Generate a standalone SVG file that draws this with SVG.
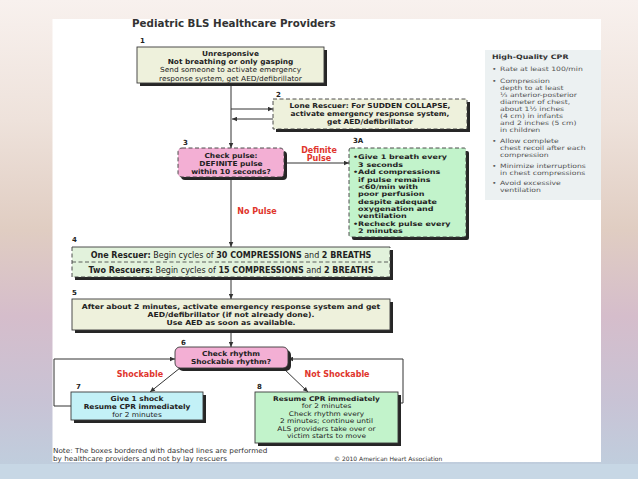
<svg xmlns="http://www.w3.org/2000/svg" width="638" height="479" viewBox="0 0 638 479">
<defs>
<linearGradient id="bg" x1="0" y1="0" x2="0" y2="1">
<stop offset="0" stop-color="#f8f1ee"/>
<stop offset="0.25" stop-color="#eee2db"/>
<stop offset="0.48" stop-color="#e0cdc2"/>
<stop offset="0.66" stop-color="#d5bdcb"/>
<stop offset="0.84" stop-color="#c8c3d5"/>
<stop offset="1" stop-color="#bed0df"/>
</linearGradient>
<marker id="ah" viewBox="0 0 10 10" refX="10" refY="5" markerWidth="6" markerHeight="5" markerUnits="userSpaceOnUse" orient="auto">
<path d="M0,0.5 L10,5 L0,9.5 z" fill="#333"/>
</marker>
</defs>
<style>
text { font-family: "DejaVu Sans", "Liberation Sans", sans-serif; fill: #222; }
.c { text-anchor: middle; }
.b { font-weight: bold; }
.f { font-size: 6.8px; }
.f7 { font-size: 7px; }
.f64 { font-size: 6.4px; }
.f63 { font-size: 6.3px; }
.f8 { font-size: 8px; }
.num { font-size: 7px; font-weight: bold; fill: #222; }
.red { fill: #e0352c; font-weight: bold; font-size: 8px; text-anchor: middle; }
.side { font-size: 6px; fill: #555; }
.box { stroke: #3a3a3a; stroke-width: 0.9; }
.dash { stroke-dasharray: 4 2.5; }
.sh { fill: #262626; }
.ln { fill: none; stroke: #333; stroke-width: 1; }
.arr { marker-end: url(#ah); }
.beige { fill: #eef1dc; }
.pink { fill: #f3afd4; }
.mint { fill: #c2f3cb; }
.pale { fill: #e2f2dc; }
.cyan { fill: #c3f1f7; }
.note { font-size: 6.8px; fill: #333; }
</style>

<rect x="0" y="0" width="638" height="479" fill="url(#bg)"/>
<rect x="0" y="464" width="638" height="15" fill="#c7d7e5"/>
<rect x="52.5" y="19" width="548.5" height="443" fill="#ffffff"/>

<text x="132" y="27" class="b" style="font-size:10.3px;fill:#333">Pediatric BLS Healthcare Providers</text>

<g id="sidebar">
<rect x="485" y="50" width="116" height="150" fill="#ecf1f2"/>
<g transform="translate(492 0) scale(1.28 1) translate(-492 0)">
<text x="492" y="59" class="b" style="font-size:6.2px;fill:#333">High-Quality CPR</text>
<text class="side" x="492" y="71">•</text><text class="side" x="498.3" y="71">Rate at least 100/min</text>
<text class="side" x="492" y="83">•</text><text class="side" x="498.3" y="83">Compression</text>
<text class="side" x="498.3" y="90">depth to at least</text>
<text class="side" x="498.3" y="97">⅓ anterior-posterior</text>
<text class="side" x="498.3" y="104">diameter of chest,</text>
<text class="side" x="498.3" y="111">about 1½ inches</text>
<text class="side" x="498.3" y="118">(4 cm) in infants</text>
<text class="side" x="498.3" y="125">and 2 inches (5 cm)</text>
<text class="side" x="498.3" y="132">in children</text>
<text class="side" x="492" y="143">•</text><text class="side" x="498.3" y="143">Allow complete</text>
<text class="side" x="498.3" y="150">chest recoil after each</text>
<text class="side" x="498.3" y="157">compression</text>
<text class="side" x="492" y="168">•</text><text class="side" x="498.3" y="168">Minimize interruptions</text>
<text class="side" x="498.3" y="175">in chest compressions</text>
<text class="side" x="492" y="185">•</text><text class="side" x="498.3" y="185">Avoid excessive</text>
<text class="side" x="498.3" y="192">ventilation</text>
</g>
</g>

<g id="connectors">
<line class="ln arr" x1="231" y1="83" x2="231" y2="148"/>
<line class="ln arr" x1="231" y1="109" x2="273" y2="109"/>
<line class="ln arr" x1="273" y1="119" x2="232" y2="119"/>
<line class="ln arr" x1="284" y1="163" x2="349" y2="163"/>
<line class="ln arr" x1="231" y1="177" x2="231" y2="247"/>
<line class="ln arr" x1="231" y1="277" x2="231" y2="299"/>
<line class="ln arr" x1="231" y1="330" x2="231" y2="347"/>
<line class="ln arr" x1="180" y1="368" x2="150" y2="392"/>
<line class="ln arr" x1="283" y1="368" x2="308" y2="392"/>
<polyline class="ln arr" points="71,406 54,406 54,359 175,359"/>
<polyline class="ln arr" points="398,403 403,403 403,359 288,359"/>
</g>

<g id="node1">
<text class="num" x="140" y="43">1</text>
<rect class="sh" x="140" y="50" width="187" height="36"/>
<rect class="box beige" x="137" y="47" width="187" height="36"/>
<g transform="translate(230.5 0) scale(1.06 1) translate(-230.5 0)">
<text class="c b f7" x="230.5" y="56">Unresponsive</text>
<text class="c b f7" x="230.5" y="64.2">Not breathing or only gasping</text>
<text class="c f7" x="230.5" y="72.4">Send someone to activate emergency</text>
<text class="c f7" x="230.5" y="80.6">response system, get AED/defibrillator</text>
</g>
</g>

<g id="node2">
<text class="num" x="276" y="97">2</text>
<rect class="sh" x="276" y="102" width="194" height="30"/>
<rect class="box beige dash" x="273" y="99" width="194" height="30"/>
<g transform="translate(370 0) scale(1.09 1) translate(-370 0)">
<text class="c b f" x="370" y="108">Lone Rescuer: For SUDDEN COLLAPSE,</text>
<text class="c b f" x="370" y="116">activate emergency response system,</text>
<text class="c b f" x="370" y="124">get AED/defibrillator</text>
</g>
</g>

<g id="node3">
<text class="num" x="183" y="145">3</text>
<rect class="sh" x="181" y="151" width="106" height="29" rx="4"/>
<rect class="box pink dash" x="178" y="148" width="106" height="29" rx="4"/>
<g transform="translate(231 0) scale(1.09 1) translate(-231 0)">
<text class="c b f" x="231" y="158">Check pulse:</text>
<text class="c b f" x="231" y="166">DEFINITE pulse</text>
<text class="c b f" x="231" y="174">within 10 seconds?</text>
</g>
</g>

<text class="red" x="319" y="153">Definite</text>
<text class="red" x="319" y="161">Pulse</text>
<text class="red" x="257" y="214">No Pulse</text>

<g id="node3A">
<text class="num" x="353" y="143">3A</text>
<rect class="sh" x="352" y="151" width="117" height="89" rx="2"/>
<rect class="box mint dash" x="349" y="148" width="117" height="89" rx="2"/>
<g class="b f63" transform="translate(353 0) scale(1.27 1) translate(-353 0)">
<text x="353" y="159.5">•</text><text x="357" y="159.5">Give 1 breath every</text>
<text x="357" y="166.9">3 seconds</text>
<text x="353" y="174.2">•</text><text x="357" y="174.2">Add compressions</text>
<text x="357" y="181.6">if pulse remains</text>
<text x="357" y="188.9">&lt;60/min with</text>
<text x="357" y="196.3">poor perfusion</text>
<text x="357" y="203.6">despite adequate</text>
<text x="357" y="211">oxygenation and</text>
<text x="357" y="218.3">ventilation</text>
<text x="353" y="225.7">•</text><text x="357" y="225.7">Recheck pulse every</text>
<text x="357" y="233">2 minutes</text>
</g>
</g>

<g id="node4">
<text class="num" x="72" y="242">4</text>
<rect class="sh" x="75" y="250" width="318" height="30"/>
<rect x="72" y="247" width="318" height="30" class="pale"/>
<path class="ln dash" d="M72,247 V277 H390 V247" style="stroke:#3a3a3a;stroke-width:0.9"/>
<line x1="72" y1="247" x2="390" y2="247" style="stroke:#3a3a3a;stroke-width:0.9"/>
<line class="dash" x1="72" y1="262" x2="390" y2="262" style="stroke:#3a3a3a;stroke-width:0.8"/>
<text class="c f8" x="231" y="258"><tspan class="b">One Rescuer:</tspan> Begin cycles of <tspan class="b">30 COMPRESSIONS</tspan> and <tspan class="b">2 BREATHS</tspan></text>
<text class="c f8" x="231" y="272.5"><tspan class="b">Two Rescuers:</tspan> Begin cycles of <tspan class="b">15 COMPRESSIONS</tspan> and <tspan class="b">2 BREATHS</tspan></text>
</g>

<g id="node5">
<text class="num" x="72" y="295">5</text>
<rect class="sh" x="75" y="302" width="318" height="31"/>
<rect class="box beige" x="72" y="299" width="318" height="31"/>
<g transform="translate(231 0) scale(1.13 1) translate(-231 0)">
<text class="c b f" x="231" y="309">After about 2 minutes, activate emergency response system and get</text>
<text class="c b f" x="231" y="317">AED/defibrillator (if not already done).</text>
<text class="c b f" x="231" y="325">Use AED as soon as available.</text>
</g>
</g>

<g id="node6">
<text class="num" x="181" y="345">6</text>
<rect class="sh" x="178" y="350" width="113" height="21" rx="5"/>
<rect class="box pink" x="175" y="347" width="113" height="21" rx="5"/>
<g transform="translate(231 0) scale(1.09 1) translate(-231 0)">
<text class="c b f" x="231" y="356.5">Check rhythm</text>
<text class="c b f" x="231" y="364.5">Shockable rhythm?</text>
</g>
</g>

<text class="red" x="140" y="377">Shockable</text>
<text class="red" x="337" y="377">Not Shockable</text>

<g id="node7">
<text class="num" x="76" y="389">7</text>
<rect class="sh" x="74" y="395" width="132" height="28"/>
<rect class="box cyan" x="71" y="392" width="132" height="28"/>
<g transform="translate(137 0) scale(1.09 1) translate(-137 0)">
<text class="c b f" x="137" y="401">Give 1 shock</text>
<text class="c b f" x="137" y="409">Resume CPR immediately</text>
<text class="c f" x="137" y="417">for 2 minutes</text>
</g>
</g>

<g id="node8">
<text class="num" x="257" y="389">8</text>
<rect class="sh" x="258" y="395" width="143" height="51"/>
<rect class="box mint" x="255" y="392" width="143" height="51"/>
<g transform="translate(326.5 0) scale(1.16 1) translate(-326.5 0)">
<text class="c b f64" x="326.5" y="401">Resume CPR immediately</text>
<text class="c f64" x="326.5" y="408.5">for 2 minutes</text>
<text class="c f64" x="326.5" y="416">Check rhythm every</text>
<text class="c f64" x="326.5" y="423.5">2 minutes; continue until</text>
<text class="c f64" x="326.5" y="431">ALS providers take over or</text>
<text class="c f64" x="326.5" y="438.5">victim starts to move</text>
</g>
</g>

<g transform="translate(53 0) scale(1.07 1) translate(-53 0)">
<text class="note" x="53" y="453">Note: The boxes bordered with dashed lines are performed</text>
<text class="note" x="53" y="461">by healthcare providers and not by lay rescuers</text>
</g>
<text x="334" y="461" style="font-size:6px;fill:#333">© 2010 American Heart Association</text>
</svg>
